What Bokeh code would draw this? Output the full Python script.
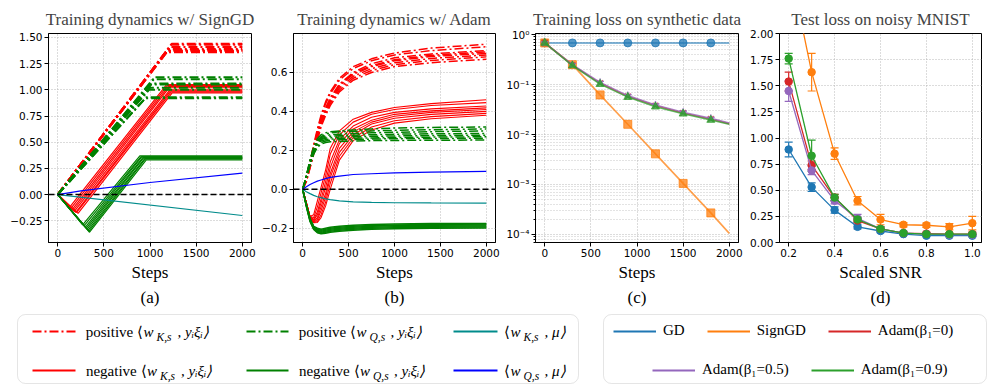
from bokeh.plotting import figure
from bokeh.layouts import column, row
from bokeh.models import (Range1d, Span, Title, CustomJSTickFormatter, FixedTicker,
                          ColumnDataSource, Whisker, TeeHead, Legend, LegendItem, BoxAnnotation)
from bokeh.core.properties import value
from bokeh.embed import file_html
from bokeh.resources import INLINE

# ------------------------------------------------------------------ data
# (a) SignGD: piecewise-linear trajectories (knots)
a_start, a_end = 0, 2000
a_pos_k_t = [1235, 1228, 1215, 1205, 1198, 1190, 1182, 1170]
a_pos_k_v = [1.44, 1.43, 1.41, 1.39, 1.38, 1.37, 1.37, 1.36]
a_pos_q_t = [1050, 1040, 1020, 1010, 1000, 990, 960, 950]
a_pos_q_v = [1.12, 1.10, 1.06, 1.05, 1.02, 1.00, 0.93, 0.92]
a_neg_k_t1 = [130, 145, 160, 170, 180, 195, 205, 220]
a_neg_k_v1 = [-0.12, -0.13, -0.14, -0.15, -0.16, -0.17, -0.17, -0.18]
a_neg_k_t2 = [1180, 1190, 1200, 1208, 1215, 1222, 1230, 1240]
a_neg_k_v2 = [1.05, 1.04, 1.03, 1.02, 1.00, 0.99, 0.98, 0.97]
a_neg_q_t1 = [270, 285, 300, 310, 320, 330, 338, 345]
a_neg_q_v1 = [-0.29, -0.30, -0.31, -0.32, -0.33, -0.34, -0.35, -0.36]
a_neg_q_t2 = [890, 900, 910, 920, 930, 940, 950, 960]
a_neg_q_v2 = [0.37, 0.36, 0.36, 0.35, 0.35, 0.34, 0.34, 0.33]
a_k_mu_x = [0, 2000]
a_k_mu_y = [0, -0.20]
a_q_mu_x = [0, 250, 1000, 2000]
a_q_mu_y = [0, 0.035, 0.115, 0.205]

# (b) Adam trajectories sampled at b_steps
b_steps = [0, 40, 80, 120, 160, 200, 250, 300, 400, 550, 750, 1000, 1400, 2000]
b_pos_k = [
    [0, 0.06, 0.14, 0.23, 0.31, 0.38, 0.45, 0.50, 0.57, 0.63, 0.67, 0.70, 0.725, 0.745],
    [0, 0.06, 0.14, 0.22, 0.30, 0.37, 0.44, 0.49, 0.56, 0.62, 0.66, 0.69, 0.712, 0.732],
    [0, 0.05, 0.13, 0.21, 0.29, 0.36, 0.42, 0.47, 0.54, 0.60, 0.645, 0.675, 0.695, 0.712],
    [0, 0.05, 0.13, 0.21, 0.28, 0.35, 0.41, 0.46, 0.535, 0.595, 0.635, 0.665, 0.688, 0.705],
    [0, 0.05, 0.12, 0.20, 0.28, 0.34, 0.41, 0.455, 0.53, 0.59, 0.63, 0.66, 0.682, 0.698],
    [0, 0.05, 0.12, 0.19, 0.27, 0.33, 0.40, 0.45, 0.52, 0.58, 0.62, 0.65, 0.672, 0.69],
    [0, 0.04, 0.11, 0.19, 0.26, 0.33, 0.39, 0.44, 0.51, 0.57, 0.61, 0.64, 0.662, 0.68],
    [0, 0.04, 0.11, 0.18, 0.25, 0.32, 0.38, 0.43, 0.50, 0.56, 0.60, 0.63, 0.65, 0.668],
]
b_pos_q = [
    [0, 0.07, 0.15, 0.22, 0.26, 0.28, 0.29, 0.295, 0.30, 0.305, 0.31, 0.315, 0.318, 0.32],
    [0, 0.07, 0.15, 0.21, 0.25, 0.27, 0.283, 0.29, 0.295, 0.298, 0.30, 0.303, 0.306, 0.31],
    [0, 0.07, 0.14, 0.20, 0.245, 0.265, 0.275, 0.28, 0.283, 0.287, 0.29, 0.293, 0.296, 0.30],
    [0, 0.065, 0.14, 0.20, 0.24, 0.26, 0.268, 0.272, 0.275, 0.278, 0.28, 0.283, 0.285, 0.287],
    [0, 0.065, 0.135, 0.195, 0.235, 0.255, 0.262, 0.265, 0.268, 0.27, 0.272, 0.274, 0.276, 0.278],
    [0, 0.06, 0.13, 0.19, 0.23, 0.248, 0.255, 0.258, 0.26, 0.262, 0.264, 0.266, 0.268, 0.27],
    [0, 0.06, 0.13, 0.185, 0.22, 0.24, 0.248, 0.252, 0.254, 0.256, 0.258, 0.26, 0.261, 0.262],
    [0, 0.06, 0.125, 0.18, 0.215, 0.232, 0.24, 0.244, 0.246, 0.248, 0.25, 0.251, 0.252, 0.253],
]
b_neg_k = [
    [0, -0.07, -0.14, -0.13, -0.06, 0.01, 0.10, 0.21, 0.30, 0.36, 0.395, 0.42, 0.44, 0.46],
    [0, -0.07, -0.14, -0.145, -0.09, -0.02, 0.07, 0.18, 0.28, 0.345, 0.385, 0.41, 0.43, 0.445],
    [0, -0.07, -0.14, -0.155, -0.115, -0.05, 0.04, 0.14, 0.255, 0.325, 0.37, 0.395, 0.413, 0.428],
    [0, -0.07, -0.14, -0.16, -0.13, -0.07, 0.01, 0.11, 0.235, 0.31, 0.355, 0.385, 0.403, 0.418],
    [0, -0.07, -0.145, -0.165, -0.145, -0.09, -0.02, 0.08, 0.21, 0.295, 0.345, 0.375, 0.395, 0.41],
    [0, -0.07, -0.145, -0.17, -0.155, -0.11, -0.04, 0.06, 0.19, 0.28, 0.335, 0.365, 0.385, 0.40],
    [0, -0.07, -0.145, -0.17, -0.165, -0.13, -0.065, 0.03, 0.17, 0.265, 0.32, 0.352, 0.373, 0.39],
    [0, -0.07, -0.145, -0.172, -0.17, -0.145, -0.085, 0.00, 0.15, 0.25, 0.305, 0.34, 0.362, 0.38],
]
b_neg_q = [
    [0, -0.08, -0.15, -0.19, -0.20, -0.205, -0.20, -0.195, -0.19, -0.185, -0.181, -0.178, -0.176, -0.175],
    [0, -0.08, -0.152, -0.192, -0.205, -0.21, -0.205, -0.20, -0.195, -0.19, -0.186, -0.183, -0.18, -0.178],
    [0, -0.082, -0.155, -0.195, -0.21, -0.215, -0.21, -0.205, -0.20, -0.195, -0.19, -0.187, -0.185, -0.183],
    [0, -0.084, -0.158, -0.20, -0.215, -0.22, -0.215, -0.21, -0.205, -0.20, -0.195, -0.192, -0.19, -0.188],
    [0, -0.086, -0.162, -0.203, -0.22, -0.225, -0.22, -0.215, -0.21, -0.205, -0.20, -0.197, -0.195, -0.193],
    [0, -0.088, -0.165, -0.206, -0.223, -0.228, -0.225, -0.22, -0.215, -0.21, -0.205, -0.202, -0.20, -0.198],
]
b_k_mu = [0, -0.012, -0.022, -0.031, -0.038, -0.043, -0.049, -0.053, -0.059, -0.064, -0.067, -0.069, -0.070, -0.071]
b_q_mu = [0, 0.013, 0.025, 0.034, 0.042, 0.048, 0.055, 0.061, 0.068, 0.076, 0.080, 0.084, 0.088, 0.092]

# (c) training loss (log scale)
c_steps = [0, 300, 600, 900, 1200, 1500, 1800, 2000]
c_gd = [0.68, 0.68, 0.68, 0.68, 0.68, 0.68, 0.68, 0.68]
c_signgd = [0.68, 0.25, 0.062, 0.016, 0.0041, 0.00105, 0.00027, 0.000105]
c_adam0 = [0.68, 0.245, 0.107, 0.058, 0.038, 0.027, 0.0205, 0.0165]
c_adam05 = [0.68, 0.25, 0.11, 0.060, 0.039, 0.028, 0.021, 0.017]
c_adam09 = [0.68, 0.24, 0.102, 0.056, 0.036, 0.026, 0.0195, 0.016]

# (d) test loss vs scaled SNR with error bars
d_snr = [0.2, 0.3, 0.4, 0.5, 0.6, 0.7, 0.8, 0.9, 1.0]
d_gd = [0.89, 0.53, 0.31, 0.15, 0.11, 0.08, 0.065, 0.065, 0.065]
d_gd_err = [0.07, 0.04, 0.03, 0.02, 0.015, 0.01, 0.01, 0.01, 0.01]
d_signgd = [2.69, 1.63, 0.85, 0.40, 0.22, 0.17, 0.165, 0.15, 0.185]
d_signgd_err = [0.15, 0.18, 0.055, 0.04, 0.05, 0.02, 0.02, 0.03, 0.065]
d_adam0 = [1.54, 0.74, 0.43, 0.21, 0.13, 0.09, 0.085, 0.08, 0.08]
d_adam0_err = [0.09, 0.04, 0.03, 0.02, 0.02, 0.015, 0.015, 0.01, 0.02]
d_adam05 = [1.45, 0.69, 0.40, 0.23, 0.13, 0.09, 0.08, 0.075, 0.075]
d_adam05_err = [0.10, 0.04, 0.03, 0.04, 0.02, 0.02, 0.015, 0.01, 0.02]
d_adam09 = [1.76, 0.83, 0.43, 0.22, 0.13, 0.09, 0.08, 0.08, 0.08]
d_adam09_err = [0.05, 0.15, 0.03, 0.02, 0.02, 0.01, 0.01, 0.01, 0.01]

opt_names = ["GD", "SignGD", "Adam(β₁=0)", "Adam(β₁=0.5)", "Adam(β₁=0.9)"]
opt_colors = ["#1f77b4", "#ff7f0e", "#d62728", "#9467bd", "#2ca02c"]
opt_markers = ["circle", "square", "x", "star", "triangle"]

step_ticks = [0, 500, 1000, 1500, 2000]
a_yticks = [-0.25, 0.0, 0.25, 0.5, 0.75, 1.0, 1.25, 1.5]
b_yticks = [-0.2, 0.0, 0.2, 0.4, 0.6]
c_yticks = [1e-4, 1e-3, 1e-2, 1e-1, 1.0]
c_yminor = [m * 10.0 ** e for e in range(-5, 1) for m in range(2, 10)]
d_xticks = [0.2, 0.4, 0.6, 0.8, 1.0]
d_yticks = [0.0, 0.25, 0.5, 0.75, 1.0, 1.25, 1.5, 1.75, 2.0]

# ------------------------------------------------------------------ styling helpers
SERIF = "Liberation Serif"
SANS = "DejaVu Sans"
DASHDOT = "9 3 2 3"
GRIDC = "#b0b0b0"
RED, GREEN, TEAL, BLUE = "#ff0000", "#008000", "#008b8b", "#0000ff"
ROW_H = 311
TOP_B = 33
FRAME_H = 209


def fixed_fmt(nd):
    return CustomJSTickFormatter(code="return tick.toFixed(%d).replace('-', '\\u2212');" % nd)


def make_fig(width, left, right, title, **kw):
    p = figure(width=width, height=ROW_H, title=title, output_backend="svg",
               toolbar_location=None, min_border_left=left, min_border_right=right,
               min_border_top=TOP_B, min_border_bottom=ROW_H - TOP_B - FRAME_H, **kw)
    p.title.text_font = SERIF
    p.title.text_font_size = "17px"
    p.title.text_font_style = "normal"
    p.title.align = "center"
    p.title.standoff = 9
    p.outline_line_color = "black"
    p.outline_line_alpha = 1
    p.outline_line_width = 1
    p.background_fill_color = "white"
    p.border_fill_color = "white"
    for ax in (p.xaxis[0], p.yaxis[0]):
        ax.major_label_text_font = SANS
        ax.major_label_text_font_size = "10.5px"
        ax.major_label_text_color = "black"
        ax.major_tick_out = 4
        ax.major_tick_in = 0
        ax.minor_tick_out = 0
        ax.minor_tick_in = 0
        ax.minor_tick_line_color = None
        ax.major_label_standoff = 2
        ax.axis_line_color = "black"
        ax.major_tick_line_color = "black"
    for g in (p.xgrid[0], p.ygrid[0]):
        g.grid_line_color = GRIDC
        g.grid_line_dash = "1 2"
        g.grid_line_width = 0.9
    return p


def finish(p, xlabel, sub):
    # x label and panel tag, stacked below the x axis
    p.add_layout(Title(text=xlabel, align="center", text_font=SERIF, text_font_size="17px",
                       text_font_style="normal", text_color="black", standoff=3), "below")
    p.add_layout(Title(text=sub, align="center", text_font=SERIF, text_font_size="17px",
                       text_font_style="normal", text_color="black", standoff=5), "below")


# ------------------------------------------------------------------ (a)
pa = make_fig(259, 48, 8, "Training dynamics w/ SignGD",
              x_range=Range1d(-100, 2100), y_range=Range1d(-0.458, 1.538))
pa.xaxis.ticker = FixedTicker(ticks=step_ticks)
pa.yaxis.ticker = FixedTicker(ticks=a_yticks)
pa.yaxis.formatter = fixed_fmt(2)
pa.multi_line(xs=[[a_start, t, a_end] for t in a_pos_k_t], ys=[[0, v, v] for v in a_pos_k_v],
              line_color=RED, line_dash=DASHDOT, line_width=2)
pa.multi_line(xs=[[a_start, t1, t2, a_end] for t1, t2 in zip(a_neg_k_t1, a_neg_k_t2)],
              ys=[[0, v1, v2, v2] for v1, v2 in zip(a_neg_k_v1, a_neg_k_v2)],
              line_color=RED, line_width=1.2)
pa.multi_line(xs=[[a_start, t, a_end] for t in a_pos_q_t], ys=[[0, v, v] for v in a_pos_q_v],
              line_color=GREEN, line_dash=DASHDOT, line_width=2)
pa.multi_line(xs=[[a_start, t1, t2, a_end] for t1, t2 in zip(a_neg_q_t1, a_neg_q_t2)],
              ys=[[0, v1, v2, v2] for v1, v2 in zip(a_neg_q_v1, a_neg_q_v2)],
              line_color=GREEN, line_width=1.2)
pa.line(a_k_mu_x, a_k_mu_y, line_color=TEAL, line_width=1.2)
pa.line(a_q_mu_x, a_q_mu_y, line_color=BLUE, line_width=1.2)
pa.add_layout(Span(location=0, dimension="width", line_color="black", line_dash="6 3", line_width=1.5))
finish(pa, "Steps", "(a)")

# ------------------------------------------------------------------ (b)
pb = make_fig(244, 33, 8, "Training dynamics w/ Adam",
              x_range=Range1d(-100, 2100), y_range=Range1d(-0.273, 0.80))
pb.xaxis.ticker = FixedTicker(ticks=step_ticks)
pb.yaxis.ticker = FixedTicker(ticks=b_yticks)
pb.yaxis.formatter = fixed_fmt(1)
pb.multi_line(xs=[b_steps] * len(b_pos_k), ys=b_pos_k, line_color=RED, line_dash=DASHDOT, line_width=1.5)
pb.multi_line(xs=[b_steps] * len(b_neg_k), ys=b_neg_k, line_color=RED, line_width=1.1)
pb.multi_line(xs=[b_steps] * len(b_pos_q), ys=b_pos_q, line_color=GREEN, line_dash=DASHDOT, line_width=1.5)
pb.multi_line(xs=[b_steps] * len(b_neg_q), ys=b_neg_q, line_color=GREEN, line_width=1.5)
pb.line(b_steps, b_k_mu, line_color=TEAL, line_width=1.2)
pb.line(b_steps, b_q_mu, line_color=BLUE, line_width=1.2)
pb.add_layout(Span(location=0, dimension="width", line_color="black", line_dash="6 3", line_width=1.5))
finish(pb, "Steps", "(b)")

# ------------------------------------------------------------------ (c)
pc = make_fig(244, 32, 9, "Training loss on synthetic data",
              x_range=Range1d(-100, 2100), y_range=Range1d(6.9e-5, 1.05), y_axis_type="log")
pc.xaxis.ticker = FixedTicker(ticks=step_ticks)
pc.yaxis.ticker = FixedTicker(ticks=c_yticks, minor_ticks=c_yminor)
pc.yaxis.formatter = CustomJSTickFormatter(code="""
const sup = {'-': '\\u207b', '0': '\\u2070', '1': '\\u00b9', '2': '\\u00b2', '3': '\\u00b3',
             '4': '\\u2074', '5': '\\u2075', '6': '\\u2076', '7': '\\u2077', '8': '\\u2078', '9': '\\u2079'};
const e = Math.round(Math.log10(tick));
return '10' + String(e).split('').map(c => sup[c]).join('');
""")
pc.yaxis.minor_tick_out = 2
pc.yaxis.minor_tick_line_color = "black"
pc.ygrid.minor_grid_line_color = GRIDC
pc.ygrid.minor_grid_line_dash = "1 2"
pc.ygrid.minor_grid_line_width = 0.7
c_series = [c_gd, c_signgd, c_adam0, c_adam05, c_adam09]
n_mark = len(c_steps) - 1
for vals, col, mk in zip(c_series, opt_colors, opt_markers):
    pc.line(c_steps, vals, line_color=col, line_width=1.6, line_alpha=0.75)
    pc.scatter(c_steps[:n_mark], vals[:n_mark], marker=mk, size=8, line_color=col,
               fill_color=col, alpha=0.75, line_width=1.5 if mk == "x" else 1)
finish(pc, "Steps", "(c)")

# ------------------------------------------------------------------ (d)
pd_ = make_fig(252, 31, 18, "Test loss on noisy MNIST",
               x_range=Range1d(0.16, 1.04), y_range=Range1d(0.0, 2.0))
pd_.xaxis.ticker = FixedTicker(ticks=d_xticks)
pd_.xaxis.formatter = fixed_fmt(1)
pd_.yaxis.ticker = FixedTicker(ticks=d_yticks)
pd_.yaxis.formatter = fixed_fmt(2)
d_series = [(d_gd, d_gd_err), (d_signgd, d_signgd_err), (d_adam0, d_adam0_err),
            (d_adam05, d_adam05_err), (d_adam09, d_adam09_err)]
y_top = 2.0
for (vals, err), col in zip(d_series, opt_colors):
    pd_.line(d_snr, vals, line_color=col, line_width=1.3)
    keep = [i for i in range(len(d_snr)) if vals[i] - err[i] < y_top]
    src = ColumnDataSource(dict(x=[d_snr[i] for i in keep],
                                lo=[vals[i] - err[i] for i in keep],
                                hi=[vals[i] + err[i] for i in keep]))
    pd_.add_layout(Whisker(source=src, base="x", lower="lo", upper="hi", line_color=col, line_width=1.2,
                           upper_head=TeeHead(size=8, line_color=col, line_width=1.2),
                           lower_head=TeeHead(size=8, line_color=col, line_width=1.2)))
    pd_.scatter(d_snr, vals, marker="circle", size=7.5, color=col)
finish(pd_, "Scaled SNR", "(d)")

# ------------------------------------------------------------------ legends
LEG_W, LEG_H = 999, 74
leg = figure(width=LEG_W, height=LEG_H, x_range=Range1d(0, LEG_W), y_range=Range1d(0, LEG_H),
             x_axis_type=None, y_axis_type=None, min_border=0, toolbar_location=None,
             output_backend="svg", outline_line_color=None)
leg.grid.visible = False

BOXC = "#a8a8a8"
leg.add_layout(BoxAnnotation(left=17, right=578, bottom=2, top=71, fill_alpha=0,
                             line_color=BOXC, line_width=1, border_radius=8))
leg.add_layout(BoxAnnotation(left=603, right=986, bottom=2, top=71, fill_alpha=0,
                             line_color=BOXC, line_width=1, border_radius=8))

ROW1, ROW2 = 54, 15
# left legend: handles
left_handles = [((32, 75), ROW1, RED, DASHDOT), ((32, 75), ROW2, RED, "solid"),
                ((246, 288), ROW1, GREEN, DASHDOT), ((246, 288), ROW2, GREEN, "solid"),
                ((453, 497), ROW1, TEAL, "solid"), ((453, 497), ROW2, BLUE, "solid")]
for (x0, x1), yy, col, dash in left_handles:
    leg.line([x0, x1], [yy, yy], line_color=col, line_width=2, line_dash=dash)

# left legend: labels (main text + subscripts)
left_pre = ["positive ⟨", "negative ⟨", "positive ⟨", "negative ⟨", "⟨", "⟨"]
left_sub = ["K,s", "K,s", "Q,s", "Q,s", "K,s", "Q,s"]
left_post = [", yᵢξᵢ⟩", ", yᵢξᵢ⟩", ", yᵢξᵢ⟩", ", yᵢξᵢ⟩", ", μ⟩", ", μ⟩"]
left_wx = [143, 146.5, 356, 359.5, 510, 510]
left_y = [ROW1, ROW2, ROW1, ROW2, ROW1, ROW2]
tf = dict(text_font=value(SERIF), text_font_size=value("15px"), text_color="black", text_baseline="middle")
leg.text(x=[w - 0.5 for w in left_wx], y=left_y, text=left_pre, text_align="right", **tf)
leg.text(x=left_wx, y=left_y, text=["w"] * 6, text_align="left", text_font_style="italic", **tf)
leg.text(x=[w + 34 for w in left_wx], y=left_y, text=left_post, text_align="left",
         text_font_style="italic", **tf)
leg.text(x=[w + 13 for w in left_wx], y=[yy - 5 for yy in left_y], text=left_sub, text_align="left",
         text_font=value(SERIF), text_font_size=value("11.5px"), text_font_style="italic",
         text_color="black", text_baseline="middle")

# right legend: optimizer legend (two rows); legend keys come from hidden one-point renderers
dummies = [leg.line(x=[-100], y=[-100], line_color=col, line_width=2) for col in opt_colors]
items = [LegendItem(label=value(n), renderers=[r]) for n, r in zip(opt_names, dummies)]
lstyle = dict(orientation="horizontal", label_text_font=SERIF, label_text_font_size="15px",
              label_text_color="black", glyph_width=43, glyph_height=16, label_height=16,
              label_standoff=7, spacing=22, padding=0, margin=0, border_line_alpha=0,
              background_fill_alpha=0)
leg.add_layout(Legend(items=items[:3], location=(613, ROW1 - 8), **lstyle))
leg.add_layout(Legend(items=items[3:], location=(652, ROW2 - 8), **lstyle))

layout = column(row(pa, pb, pc, pd_), leg)
open("out.html", "w").write(file_html(layout, INLINE))
